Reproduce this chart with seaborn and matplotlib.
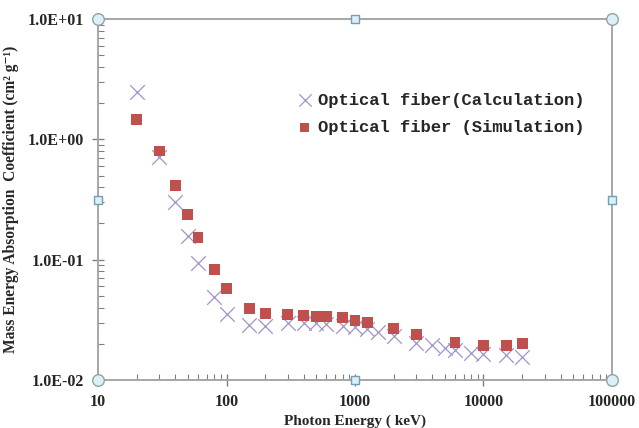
import numpy as np
import pandas as pd
import matplotlib
matplotlib.use("Agg")
import matplotlib.pyplot as plt
import matplotlib.ticker as mticker
import seaborn as sns

# calculated values (crosses)
calc_energy = [20, 30, 40, 50, 60, 80, 100, 150, 200, 300, 400, 500, 600, 800,
               1000, 1250, 1500, 2000, 3000, 4000, 5000, 6000, 8000, 10000, 15000, 20000]
calc_mu = [2.49, 0.716, 0.30, 0.157, 0.094, 0.049, 0.0357, 0.0284, 0.0281, 0.0295,
           0.0296, 0.0295, 0.029, 0.0283, 0.0277, 0.0267, 0.0252, 0.0232, 0.0204,
           0.0195, 0.0183, 0.0178, 0.0168, 0.0164, 0.016, 0.0154]

# simulated values (squares)
sim_energy = [20, 30, 40, 50, 60, 80, 100, 150, 200, 300, 400, 500, 600, 800,
              1000, 1250, 2000, 3000, 6000, 10000, 15000, 20000]
sim_mu = [1.45, 0.80, 0.417, 0.236, 0.153, 0.0835, 0.0573, 0.0393, 0.0357, 0.0348,
          0.0346, 0.034, 0.034, 0.0329, 0.0315, 0.0301, 0.0268, 0.0239, 0.0205,
          0.0195, 0.0195, 0.0201]

calc_label = "Optical fiber(Calculation)"
sim_label = "Optical fiber (Simulation)"

sns.set_style("white")
plt.rcParams["font.family"] = ["Liberation Serif", "DejaVu Serif"]

fig = plt.figure(figsize=(6.39, 4.28), dpi=100)
ax = fig.add_axes([0.1534, 0.1121, 0.8043, 0.8435])

calc = pd.DataFrame({"energy": calc_energy, "mu": calc_mu})
sim = pd.DataFrame({"energy": sim_energy, "mu": sim_mu})

sns.scatterplot(data=calc, x="energy", y="mu", marker="x", s=110, color="#a394c6",
                linewidth=0.9, label=calc_label, ax=ax, zorder=3)
sns.scatterplot(data=sim, x="energy", y="mu", marker="s", s=62, color="#c0504d",
                edgecolor="none", label=sim_label, ax=ax, zorder=4)

ax.set_xscale("log")
ax.set_yscale("log")
ax.set_xlim(10, 100000)
ax.set_ylim(0.01, 10)

ax.xaxis.set_major_formatter(mticker.FuncFormatter(lambda v, p: f"{v:.0f}"))
ax.yaxis.set_major_formatter(mticker.FuncFormatter(lambda v, p: f"{v:.1E}"))
ax.xaxis.set_minor_locator(mticker.LogLocator(base=10, subs=np.arange(2, 10)))
ax.yaxis.set_minor_locator(mticker.LogLocator(base=10, subs=np.arange(2, 10)))
ax.xaxis.set_minor_formatter(mticker.NullFormatter())
ax.yaxis.set_minor_formatter(mticker.NullFormatter())

gray = "#a6a6a6"
for s in ax.spines.values():
    s.set_color(gray)
    s.set_linewidth(1.4)
ax.tick_params(which="major", direction="inout", length=8, width=1, color="#808080",
               labelsize=11.5, bottom=True, left=True, top=False, right=False, pad=6)
ax.tick_params(which="minor", direction="in", length=4, width=0.8, color="#808080",
               bottom=True, left=True, top=False, right=False)
for lab in ax.get_xticklabels() + ax.get_yticklabels():
    lab.set_fontweight("bold")

ax.set_xlabel("Photon Energy ( keV)", fontsize=11, fontweight="bold", labelpad=3)
ax.set_ylabel("Mass Energy Absorption  Coefficient (cm² g⁻¹)",
              fontsize=11.2, fontweight="bold", labelpad=6)

leg = ax.legend(loc="upper left", bbox_to_anchor=(0.372, 0.815), frameon=False,
                prop={"family": "Liberation Mono", "weight": "bold", "size": 12.3},
                handlelength=1.0, handletextpad=0.3, labelspacing=0.72,
                markerscale=0.85, borderaxespad=0)

# selection handles on the chart frame
hx_c = [0, 1, 1, 0]
hy_c = [0, 0, 1, 1]
ax.scatter(hx_c, hy_c, transform=ax.transAxes, s=70, marker="o", facecolor="#dcf0f5",
           edgecolor="#8fa3aa", linewidth=1, clip_on=False, zorder=6)
hx_s = [0.5, 1, 0.5, 0]
hy_s = [0, 0.5, 1, 0.5]
ax.scatter(hx_s, hy_s, transform=ax.transAxes, s=40, marker="s", facecolor="#dcf0f5",
           edgecolor="#6fa0b8", linewidth=1, clip_on=False, zorder=6)

fig.savefig("out.png", dpi=100)
